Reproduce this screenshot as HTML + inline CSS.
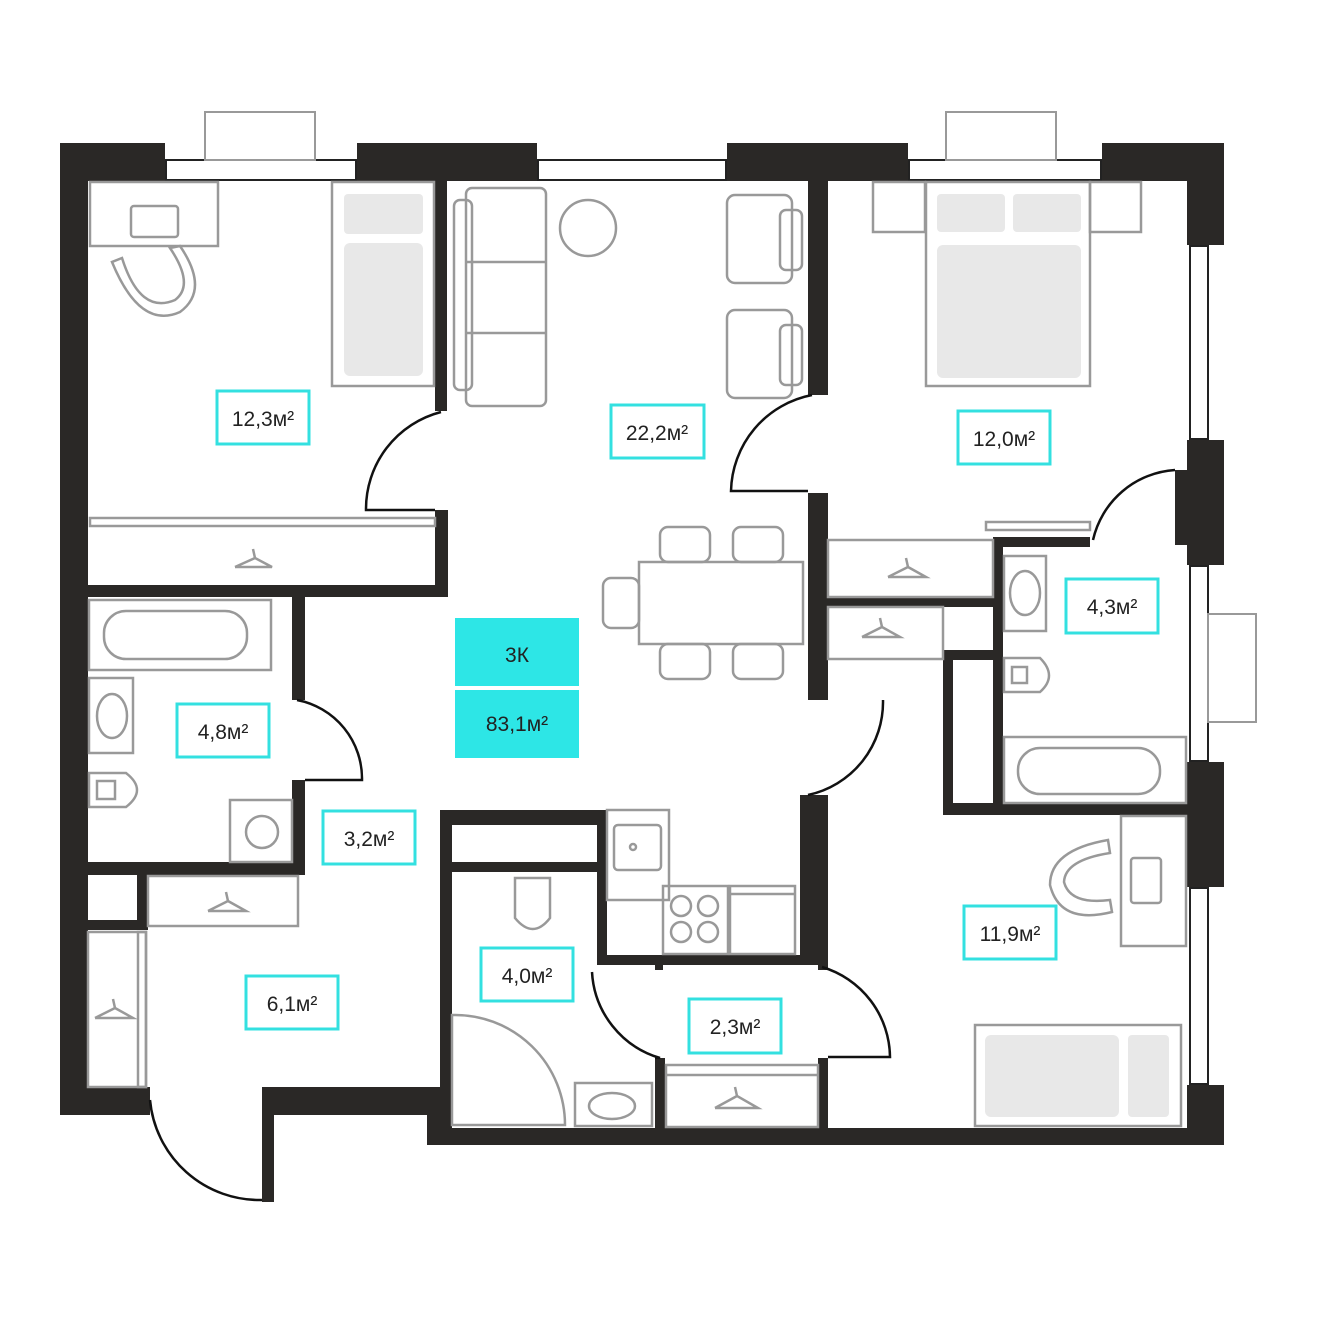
<!DOCTYPE html>
<html><head><meta charset="utf-8"><style>
html,body{margin:0;padding:0;background:#fff}
svg{display:block}
text{font-family:"Liberation Sans",sans-serif;fill:#222}
</style></head><body>
<svg width="1317" height="1317" viewBox="0 0 1317 1317" xmlns="http://www.w3.org/2000/svg">
<g fill="#2a2826">
<!-- outer top -->
<rect x="60" y="143" width="105" height="38"/>
<rect x="357" y="143" width="180" height="38"/>
<rect x="727" y="143" width="181" height="38"/>
<rect x="1102" y="143" width="122" height="38"/>
<!-- left -->
<rect x="60" y="143" width="28" height="972"/>
<rect x="60" y="1087" width="90" height="28"/>
<rect x="262" y="1087" width="188" height="28"/>
<rect x="262" y="1087" width="12" height="115"/>
<rect x="427" y="1087" width="23" height="58"/>
<rect x="427" y="1128" width="797" height="17"/>
<!-- right -->
<rect x="1187" y="143" width="37" height="102"/>
<rect x="1187" y="440" width="37" height="125"/>
<rect x="1187" y="762" width="37" height="125"/>
<rect x="1187" y="1085" width="37" height="60"/>
<!-- bedroom1 -->
<rect x="435" y="181" width="12" height="230"/>
<rect x="435" y="510" width="13" height="87"/>
<rect x="88" y="585" width="360" height="12"/>
<!-- bath 4.8 -->
<rect x="292" y="597" width="13" height="103"/>
<rect x="292" y="780" width="13" height="95"/>
<rect x="88" y="862" width="217" height="13"/>
<rect x="137" y="875" width="11" height="55"/>
<rect x="88" y="920" width="60" height="10"/>
<!-- living right -->
<rect x="808" y="181" width="20" height="214"/>
<rect x="808" y="493" width="20" height="207"/>
<rect x="800" y="795" width="28" height="170"/>
<!-- bedroom 12.0 / bath 4.3 -->
<rect x="993" y="537" width="97" height="10"/>
<rect x="993" y="537" width="10" height="275"/>
<rect x="828" y="597" width="170" height="10"/>
<rect x="943" y="650" width="55" height="10"/>
<rect x="943" y="650" width="10" height="165"/>
<rect x="943" y="803" width="244" height="12"/>
<rect x="1175" y="470" width="12" height="75"/>
<!-- kitchen block -->
<rect x="440" y="810" width="167" height="15"/>
<rect x="440" y="810" width="12" height="318"/>
<rect x="452" y="862" width="145" height="10"/>
<rect x="597" y="810" width="10" height="155"/>
<rect x="597" y="955" width="60" height="10"/>
<rect x="655" y="955" width="8" height="15"/>
<rect x="660" y="955" width="168" height="10"/>
<rect x="818" y="955" width="10" height="15"/>
<rect x="655" y="1058" width="10" height="70"/>
<rect x="818" y="1058" width="10" height="70"/>
</g>
<!-- windows -->
<g fill="#fff" stroke="#222" stroke-width="2">
<rect x="166" y="160" width="190" height="20"/>
<rect x="538" y="160" width="188" height="20"/>
<rect x="909" y="160" width="192" height="20"/>
<rect x="1190" y="246" width="18" height="193"/>
<rect x="1190" y="566" width="18" height="195"/>
<rect x="1190" y="888" width="18" height="196"/>
</g>
<g fill="none" stroke="#999" stroke-width="2">
<rect x="205" y="112" width="110" height="48"/>
<rect x="946" y="112" width="110" height="48"/>
<rect x="1208" y="614" width="48" height="108"/>
</g>
<!-- doors -->
<g fill="none" stroke="#111" stroke-width="2.5">
<path d="M441 412 A 100 100 0 0 0 366 510 L 435 510"/>
<path d="M812 395 A 100 100 0 0 0 731 491 L 808 491"/>
<path d="M1175 470 A 90 90 0 0 0 1093 540"/>
<path d="M297 700 A 80 80 0 0 1 362 780 L 305 780"/>
<path d="M883 700 A 95 95 0 0 1 808 795"/>
<path d="M150 1100 A 110 110 0 0 0 262 1200"/>
<path d="M592 972 A 95 95 0 0 0 660 1058 L 655 1058"/>
<path d="M822 967 A 95 95 0 0 1 890 1057 L 828 1057"/>
</g>
<!-- furniture -->
<g fill="none" stroke="#999" stroke-width="2.5">
<rect x="90" y="182" width="128" height="64"/>
<rect x="131" y="206" width="47" height="31" rx="3"/>
<path d="M112 262 Q140 330 180 312 Q210 290 180 246 L170 248 Q195 285 175 300 Q140 315 122 258 Z"/>
<rect x="332" y="182" width="102" height="204"/>
<rect x="90" y="518" width="345" height="8"/>
<path d="M235 567 L272 567 L255 558 L253 549 M235 567 L255 558"/>
<!-- sofa -->
<rect x="454" y="200" width="18" height="190" rx="6"/>
<rect x="466" y="188" width="80" height="218" rx="6"/>
<line x1="466" y1="262" x2="546" y2="262"/><line x1="466" y1="333" x2="546" y2="333"/>
<circle cx="588" cy="228" r="28"/>
<rect x="727" y="195" width="65" height="88" rx="8"/>
<rect x="727" y="310" width="65" height="88" rx="8"/>
<rect x="780" y="210" width="22" height="60" rx="6"/>
<rect x="780" y="325" width="22" height="60" rx="6"/>
<!-- dining -->
<rect x="639" y="562" width="164" height="82"/>
<rect x="603" y="578" width="36" height="50" rx="8"/>
<rect x="660" y="527" width="50" height="35" rx="8"/>
<rect x="733" y="527" width="50" height="35" rx="8"/>
<rect x="660" y="644" width="50" height="35" rx="8"/>
<rect x="733" y="644" width="50" height="35" rx="8"/>
<!-- bedroom 12.0 -->
<rect x="873" y="182" width="52" height="50"/>
<rect x="1090" y="182" width="51" height="50"/>
<rect x="926" y="182" width="164" height="204"/>
<rect x="986" y="522" width="104" height="8"/>
<rect x="828" y="540" width="165" height="57"/>
<path d="M888 577 L926 577 L908 567 L906 558 M888 577 L908 567"/>
<rect x="828" y="607" width="115" height="52"/>
<path d="M862 637 L900 637 L882 627 L880 618 M862 637 L882 627"/>
<!-- bath 4.3 -->
<rect x="1004" y="556" width="42" height="75"/>
<ellipse cx="1025" cy="593" rx="15" ry="22"/>
<path d="M1004 658 L1040 658 Q1058 676 1040 692 L1004 692 Z"/>
<rect x="1012" y="667" width="15" height="16"/>
<rect x="1004" y="737" width="182" height="66"/>
<rect x="1018" y="748" width="142" height="46" rx="22"/>
<!-- bath 4.8 -->
<rect x="89" y="600" width="182" height="70"/>
<rect x="104" y="611" width="143" height="48" rx="22"/>
<rect x="89" y="678" width="44" height="75"/>
<ellipse cx="112" cy="716" rx="15" ry="22"/>
<path d="M89 773 L126 773 Q148 790 126 807 L89 807 Z"/>
<rect x="97" y="781" width="18" height="18"/>
<rect x="230" y="800" width="62" height="62"/>
<circle cx="262" cy="832" r="16"/>
<!-- closets -->
<rect x="148" y="876" width="150" height="50"/>
<path d="M208 911 L246 911 L228 901 L226 892 M208 911 L228 901"/>
<rect x="88" y="932" width="58" height="155"/>
<rect x="138" y="932" width="8" height="155"/>
<path d="M95 1018 L133 1018 L115 1008 L113 999 M95 1018 L115 1008"/>
<!-- kitchen -->
<rect x="607" y="810" width="62" height="90"/>
<rect x="614" y="825" width="47" height="45" rx="4"/>
<circle cx="633" cy="847" r="3"/>
<rect x="663" y="886" width="65" height="68"/>
<circle cx="681" cy="906" r="10"/><circle cx="708" cy="906" r="10"/>
<circle cx="681" cy="932" r="10"/><circle cx="708" cy="932" r="10"/>
<rect x="730" y="886" width="65" height="68"/>
<line x1="730" y1="894" x2="795" y2="894"/>
<!-- bath 4.0 -->
<path d="M515 878 L550 878 L550 918 Q533 940 515 918 Z"/>
<path d="M452 1015 A 110 110 0 0 1 565 1125 L452 1125 Z"/>
<rect x="575" y="1083" width="77" height="43"/>
<ellipse cx="612" cy="1106" rx="23" ry="13"/>
<!-- hall closet -->
<rect x="666" y="1065" width="152" height="62"/>
<line x1="666" y1="1075" x2="818" y2="1075"/>
<path d="M715 1108 L758 1108 L737 1096 L735 1087 M715 1108 L737 1096"/>
<!-- bedroom 11.9 -->
<rect x="1121" y="816" width="65" height="130"/>
<rect x="1131" y="858" width="30" height="45" rx="3"/>
<path d="M1108 840 Q1050 850 1050 885 Q1060 925 1112 912 L1110 900 Q1070 905 1064 882 Q1065 860 1110 853 Z"/>
<rect x="975" y="1025" width="206" height="101"/>
</g>
<g fill="#e8e8e8">
<rect x="344" y="194" width="79" height="40" rx="4"/>
<rect x="344" y="243" width="79" height="133" rx="6"/>
<rect x="937" y="194" width="68" height="38" rx="4"/>
<rect x="1013" y="194" width="68" height="38" rx="4"/>
<rect x="937" y="245" width="144" height="133" rx="6"/>
<rect x="1128" y="1035" width="41" height="82" rx="4"/>
<rect x="985" y="1035" width="134" height="82" rx="6"/>
</g>
<!-- area labels -->
<g fill="none" stroke="#33e0e0" stroke-width="3">
<rect x="217" y="391" width="92" height="53"/>
<rect x="611" y="405" width="93" height="53"/>
<rect x="958" y="411" width="92" height="53"/>
<rect x="1066" y="579" width="92" height="54"/>
<rect x="177" y="704" width="92" height="53"/>
<rect x="323" y="811" width="92" height="53"/>
<rect x="246" y="976" width="92" height="53"/>
<rect x="481" y="948" width="92" height="53"/>
<rect x="689" y="999" width="92" height="54"/>
<rect x="964" y="906" width="92" height="53"/>
</g>
<rect x="455" y="618" width="124" height="68" fill="#2de6e6"/>
<rect x="455" y="690" width="124" height="68" fill="#2de6e6"/>
<g font-size="21" text-anchor="middle">
<text x="263" y="426">12,3м²</text>
<text x="657" y="440">22,2м²</text>
<text x="1004" y="446">12,0м²</text>
<text x="1112" y="614">4,3м²</text>
<text x="223" y="739">4,8м²</text>
<text x="369" y="846">3,2м²</text>
<text x="292" y="1011">6,1м²</text>
<text x="527" y="983">4,0м²</text>
<text x="735" y="1034">2,3м²</text>
<text x="1010" y="941">11,9м²</text>
<text x="517" y="662">3К</text>
<text x="517" y="731">83,1м²</text>
</g>
</svg>
</body></html>
